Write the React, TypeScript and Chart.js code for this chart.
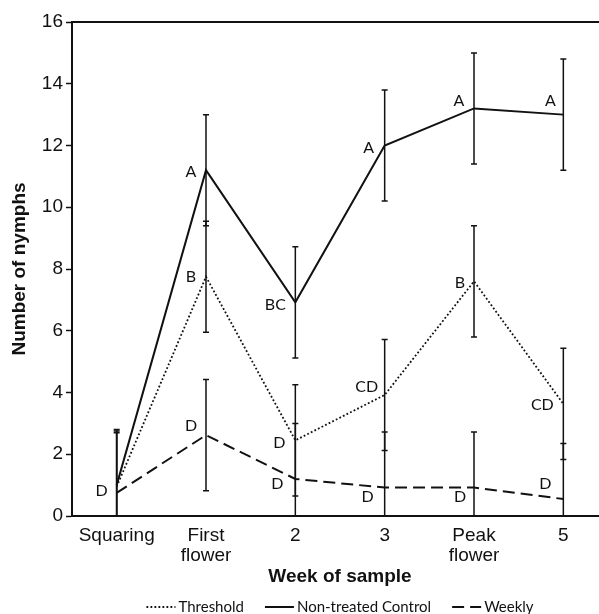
import { useEffect, useRef } from 'react';
import { Chart, registerables } from 'chart.js';
Chart.register(...registerables);

// ---- data ----
const categories: (string | string[])[] = ['Squaring', ['First', 'flower'], '2', '3', ['Peak', 'flower'], '5'];
const thresholdValues = [0.95, 7.75, 2.45, 3.92, 7.6, 3.63];
const thresholdErrors = [1.8, 1.8, 1.8, 1.8, 1.8, 1.8];
const controlValues = [1.0, 11.2, 6.92, 12.0, 13.2, 13.0];
const controlErrors = [1.8, 1.8, 1.8, 1.8, 1.8, 1.8];
const weeklyValues = [0.75, 2.62, 1.2, 0.92, 0.92, 0.55];
const weeklyErrors = [1.95, 1.8, 1.8, 1.8, 1.8, 1.8];
const thresholdLetters = ['', 'B', 'D', 'CD', 'B', 'CD'];
const controlLetters = ['', 'A', 'BC', 'A', 'A', 'A'];
const weeklyLetters = ['D', 'D', 'D', 'D', 'D', 'D'];
const yMin = 0;
const yMax = 16;
const yStep = 2;

// ---- styles ----
const INK = '#111111';
const TICK_FONT = "'Liberation Sans', Arial, sans-serif";
const LABEL_FONT = "Lato, 'Open Sans', sans-serif";

const thresholdOffsets = [[0, 0], [-15, 0], [-16, 2], [-18, -8], [-14, 1], [-21, 1]];
const controlOffsets = [[0, 0], [-15, 2], [-20, 2], [-16, 2], [-15, -8], [-13, -14]];
const weeklyOffsets = [[-15, -2], [-15, -9], [-18, 5], [-17, 9], [-14, 9], [-18, -15]];

const errorBarPlugin = {
  id: 'errorBars',
  afterDatasetsDraw(chart: any) {
    const ctx = chart.ctx;
    const ys = chart.scales.y;
    ctx.save();
    ctx.strokeStyle = INK;
    ctx.lineWidth = 1.5;
    ctx.setLineDash([]);
    chart.data.datasets.forEach((ds: any, i: number) => {
      const meta = chart.getDatasetMeta(i);
      meta.data.forEach((pt: any, j: number) => {
        const v = ds.data[j];
        const e = ds.errors[j];
        const hi = v + e;
        const lo = Math.max(v - e, yMin);
        const yHi = ys.getPixelForValue(hi);
        const yLo = ys.getPixelForValue(lo);
        const x = pt.x;
        ctx.beginPath();
        ctx.moveTo(x, yLo);
        ctx.lineTo(x, yHi);
        ctx.moveTo(x - 3, yHi);
        ctx.lineTo(x + 3, yHi);
        if (v - e > yMin) {
          ctx.moveTo(x - 3, yLo);
          ctx.lineTo(x + 3, yLo);
        }
        ctx.stroke();
      });
    });
    ctx.restore();
  },
};

const letterPlugin = {
  id: 'letters',
  afterDatasetsDraw(chart: any) {
    const ctx = chart.ctx;
    ctx.save();
    ctx.font = `16px ${LABEL_FONT}`;
    ctx.fillStyle = INK;
    ctx.textAlign = 'center';
    ctx.textBaseline = 'middle';
    chart.data.datasets.forEach((ds: any, i: number) => {
      const meta = chart.getDatasetMeta(i);
      meta.data.forEach((pt: any, j: number) => {
        const t = ds.letters[j];
        if (!t) return;
        const o = ds.letterOffsets[j];
        ctx.fillText(t, pt.x + o[0], pt.y + o[1]);
      });
    });
    ctx.restore();
  },
};

const frameLegendPlugin = {
  id: 'frameLegend',
  afterDraw(chart: any) {
    const ctx = chart.ctx;
    const area = chart.chartArea;
    ctx.save();
    // top frame line
    ctx.strokeStyle = INK;
    ctx.lineWidth = 2;
    ctx.beginPath();
    ctx.moveTo(area.left - 1, area.top);
    ctx.lineTo(area.right, area.top);
    ctx.stroke();
    ctx.beginPath();
    ctx.moveTo(area.right, area.top);
    ctx.lineTo(area.right, area.bottom);
    ctx.stroke();

    // legend
    const order = [0, 1, 2];
    ctx.font = `15px ${LABEL_FONT}`;
    ctx.textBaseline = 'middle';
    ctx.textAlign = 'left';
    const sample = 29;
    const gap = 3;
    const spacing = 21;
    const widths = order.map((i) => sample + gap + ctx.measureText(chart.data.datasets[i].label).width);
    const total = widths.reduce((a: number, b: number) => a + b, 0) + spacing * (order.length - 1);
    let x = (area.left + area.right) / 2 - total / 2;
    const y = 607;
    order.forEach((i, k) => {
      const ds = chart.data.datasets[i];
      ctx.strokeStyle = INK;
      ctx.lineWidth = ds.borderWidth;
      ctx.setLineDash(ds.borderDash || []);
      ctx.beginPath();
      ctx.moveTo(x, y);
      ctx.lineTo(x + sample, y);
      ctx.stroke();
      ctx.setLineDash([]);
      ctx.fillStyle = INK;
      ctx.fillText(ds.label, x + sample + gap, y);
      x += widths[k] + spacing;
    });
    ctx.restore();
  },
};

export default function App() {
  const ref = useRef<HTMLCanvasElement>(null);
  useEffect(() => {
    document.body.style.margin = '0';
    const canvas = ref.current;
    if (!canvas) return;
    const chart = new Chart(canvas, {
      type: 'line',
      data: {
        labels: categories as any,
        datasets: [
          {
            label: 'Threshold',
            data: thresholdValues,
            errors: thresholdErrors,
            letters: thresholdLetters,
            letterOffsets: thresholdOffsets,
            borderColor: INK,
            borderWidth: 1.8,
            borderDash: [1.8, 2.2],
            pointRadius: 0,
            tension: 0,
          } as any,
          {
            label: 'Non-treated Control',
            data: controlValues,
            errors: controlErrors,
            letters: controlLetters,
            letterOffsets: controlOffsets,
            borderColor: INK,
            borderWidth: 2,
            borderDash: [],
            pointRadius: 0,
            tension: 0,
          } as any,
          {
            label: 'Weekly',
            data: weeklyValues,
            errors: weeklyErrors,
            letters: weeklyLetters,
            letterOffsets: weeklyOffsets,
            borderColor: INK,
            borderWidth: 2,
            borderDash: [12, 6],
            pointRadius: 0,
            tension: 0,
          } as any,
        ],
      },
      options: {
        responsive: false,
        animation: false,
        layout: { padding: { top: 22, right: 2, bottom: 0, left: 0 } },
        plugins: {
          legend: { display: false },
          tooltip: { enabled: false },
        },
        scales: {
          x: {
            type: 'category',
            offset: true,
            grid: { display: false, drawTicks: false },
            border: { display: true, color: INK, width: 2 },
            ticks: {
              color: INK,
              font: { family: TICK_FONT, size: 19, lineHeight: 1.05 },
              padding: 10,
              maxRotation: 0,
              autoSkip: false,
            },
            title: {
              display: true,
              text: 'Week of sample',
              color: INK,
              font: { family: TICK_FONT, size: 19, weight: 'bold' },
              padding: { top: 0, bottom: 26 },
            },
            afterFit: (s: any) => {
              s.height = 98;
            },
          },
          y: {
            min: yMin,
            max: yMax,
            ticks: {
              stepSize: yStep,
              color: INK,
              font: { family: TICK_FONT, size: 19 },
              padding: 3,
            },
            grid: {
              display: true,
              drawOnChartArea: false,
              drawTicks: true,
              tickLength: 6,
              tickColor: INK,
              tickWidth: 1.5,
            },
            border: { display: true, color: INK, width: 2 },
            title: {
              display: true,
              text: 'Number of nymphs',
              color: INK,
              font: { family: TICK_FONT, size: 19, weight: 'bold' },
              padding: { top: 8.6, bottom: 0 },
            },
            afterFit: (s: any) => {
              s.width = 72;
            },
          },
        },
      } as any,
      plugins: [errorBarPlugin, letterPlugin, frameLegendPlugin],
    });
    return () => chart.destroy();
  }, []);
  return (
    <div style={{ width: 599, height: 614, overflow: 'hidden', position: 'relative' }}>
      <canvas ref={ref} width={610} height={614} style={{ display: 'block' }} />
    </div>
  );
}
